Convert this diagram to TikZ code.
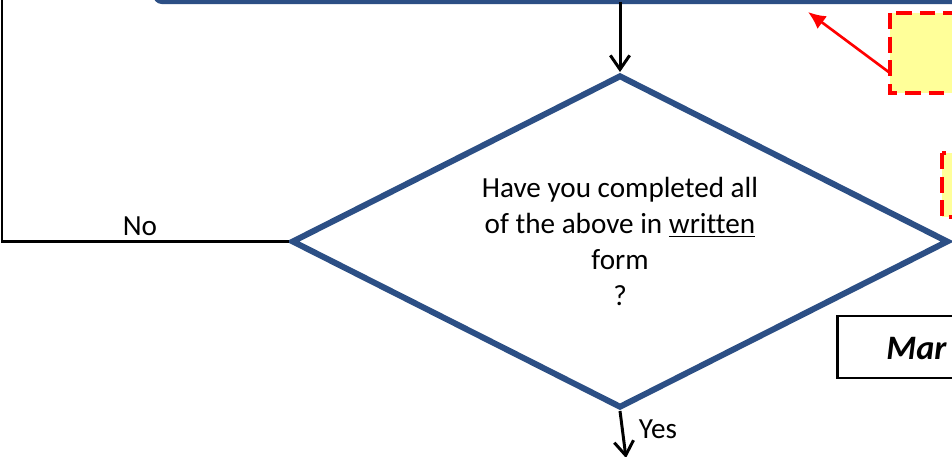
\documentclass[tikz,border=0pt]{standalone}
\usepackage{fontspec}
\setmainfont[Ligatures=NoCommon]{Carlito}
\usepackage{tikz}
\usetikzlibrary{shapes.geometric}
\usetikzlibrary{arrows.meta}
\usetikzlibrary{calc}
\definecolor{flowblue}{HTML}{2C4F85}
\definecolor{noteyellow}{HTML}{FFFF99}
\begin{document}
\begin{tikzpicture}[
    x=0.02cm, y=-0.02cm,
    every node/.style={font=\fontsize{16.6}{20.4}\selectfont},
    decision/.style={draw=flowblue, line width=3.4pt, shape=diamond, inner sep=0pt, aspect=2, minimum width=13.14cm, minimum height=6.66cm, align=center},
    process/.style={draw=flowblue, line width=2.3pt, rounded corners=4pt},
    note/.style={draw=red, fill=noteyellow, line width=2.2pt, dash pattern=on 9pt off 4.5pt},
    flow/.style={draw=black, line width=1.7pt, -{Straight Barb[length=8pt,width=11pt]}},
    pointer/.style={draw=red, line width=1.5pt, -{Latex[length=10pt,width=9pt]}}
]
\useasboundingbox (0,0) rectangle (952,456);
\clip (0,0) rectangle (952,456);
\fill[white] (0,0) rectangle (952,456);
% boxes cut off by the frame
\draw[process] (155,-60) rectangle (975,2);
\coordinate (topbox) at (620,2);
\draw[note] (890,13) rectangle (975,93);
\coordinate (noteA) at (890,73);
\draw[note] (942,153) rectangle (975,217);
\draw[line width=1.7pt] (837,316) rectangle (975,378);
\node[anchor=west, inner sep=0pt, font=\fontsize{19.5}{23}\selectfont\bfseries\itshape] (markbox) at (886,349) {Mar};
% decision
\node[decision] (check) at (620,241.5) {Have you completed all\\of the above in \underline{written}\\form\\?};
\coordinate (looptop) at (2,-10);
\coordinate (pointerend) at (808,12);
\coordinate (yesend) at (626,458);
\draw[flow] (topbox) -- (check.north);
\draw[pointer] (noteA) -- (pointerend);
\draw[line width=1.7pt] (check.west) -- (check.west -| looptop) -- (looptop);
\node at (140,226) {No};
\draw[flow] (check.south) -- (yesend);
\node at (658,429) {Yes};
\end{tikzpicture}
\end{document}
